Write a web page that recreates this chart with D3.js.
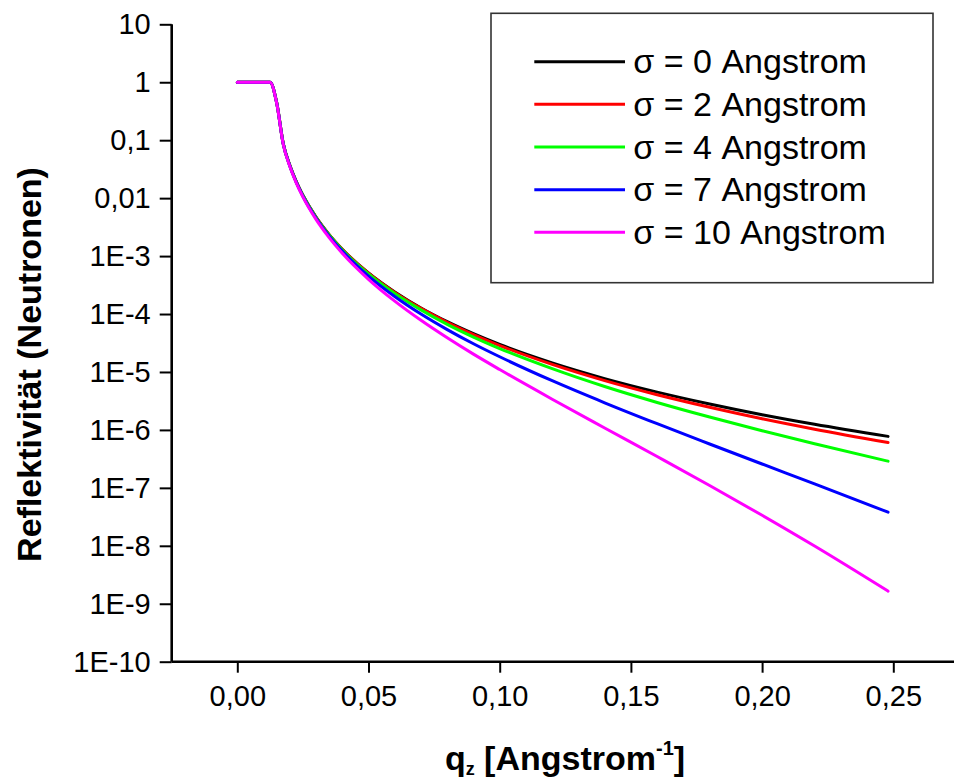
<!DOCTYPE html>
<html>
<head>
<meta charset="utf-8">
<script src="https://cdn.jsdelivr.net/npm/d3@7"></script>
<style>
  html, body { margin: 0; padding: 0; background: #fff; }
  svg { display: block; font-family: "Liberation Sans", Arial, sans-serif; }
</style>
</head>
<body>
<svg width="954" height="783"></svg>
<script>
// q_z grid (1/Angstrom) and reflectivity, one array per roughness
var qValues = [0, 0.005, 0.01, 0.0125, 0.015, 0.0175, 0.02, 0.0225, 0.025, 0.03, 0.035, 0.04,
  0.05, 0.06, 0.07, 0.08, 0.09, 0.10, 0.12, 0.14, 0.16, 0.18, 0.20, 0.22, 0.248];

var sigma0 = [1, 1, 1, 1, 0.447, 0.0878, 0.0368, 0.0191, 0.0112, 0.0047, 0.00235, 0.00131,
  5.11e-4, 2.40e-4, 1.27e-4, 7.37e-5, 4.57e-5, 2.98e-5, 1.43e-5, 7.68e-6, 4.49e-6, 2.80e-6, 1.83e-6, 1.25e-6, 7.74e-7];
var sigma2 = [1, 1, 1, 1, 0.447, 0.0877, 0.0368, 0.0191, 0.0111, 0.00468, 0.00234, 0.00131,
  5.06e-4, 2.36e-4, 1.25e-4, 7.18e-5, 4.42e-5, 2.86e-5, 1.35e-5, 7.10e-6, 4.05e-6, 2.46e-6, 1.56e-6, 1.03e-6, 6.05e-7];
var sigma4 = [1, 1, 1, 1, 0.445, 0.0874, 0.0366, 0.0190, 0.0111, 0.00463, 0.00231, 0.00128,
  4.91e-4, 2.26e-4, 1.18e-4, 6.65e-5, 4.01e-5, 2.54e-5, 1.14e-5, 5.61e-6, 2.98e-6, 1.67e-6, 9.67e-7, 5.77e-7, 2.89e-7];
var sigma7 = [1, 1, 1, 1, 0.442, 0.0865, 0.0361, 0.0187, 0.0108, 0.00449, 0.00221, 0.00122,
  4.52e-4, 2.01e-4, 1.00e-4, 5.39e-5, 3.07e-5, 1.83e-5, 7.06e-6, 2.94e-6, 1.28e-6, 5.72e-7, 2.58e-7, 1.17e-7, 3.80e-8];
var sigma10 = [1, 1, 1, 1, 0.437, 0.0851, 0.0354, 0.0182, 0.0105, 0.00429, 0.00208, 0.00112,
  3.98e-4, 1.67e-4, 7.79e-5, 3.89e-5, 2.03e-5, 1.10e-5, 3.39e-6, 1.08e-6, 3.47e-7, 1.10e-7, 3.36e-8, 9.9e-9, 1.65e-9];

var seriesNames = ["σ = 0 Angstrom", "σ = 2 Angstrom", "σ = 4 Angstrom", "σ = 7 Angstrom", "σ = 10 Angstrom"];
var seriesColors = ["#000000", "#ff0000", "#00ff00", "#0000ff", "#ff00ff"];
var seriesValues = [sigma0, sigma2, sigma4, sigma7, sigma10];

var xTicks = [0, 0.05, 0.10, 0.15, 0.20, 0.25];
var xTickLabels = ["0,00", "0,05", "0,10", "0,15", "0,20", "0,25"];
var xMinorTicks = [-0.025, 0.025, 0.075, 0.125, 0.175, 0.225, 0.275];
var yTicks = [10, 1, 0.1, 0.01, 1e-3, 1e-4, 1e-5, 1e-6, 1e-7, 1e-8, 1e-9, 1e-10];
var yTickLabels = ["10", "1", "0,1", "0,01", "1E-3", "1E-4", "1E-5", "1E-6", "1E-7", "1E-8", "1E-9", "1E-10"];

var svg = d3.select("svg");

var x = d3.scaleLinear().domain([-0.025, 0.275]).range([171.7, 958.9]);
var y = d3.scaleLog().domain([1e-10, 10]).range([661.7, 24.3]);

// minor ticks for the log axis: 2..9 in each decade
var yMinor = [];
yTicks.slice(1).forEach(function(d) {
  for (var k = 2; k <= 9; k++) yMinor.push(d * k);
});

// y axis
var gy = svg.append("g").attr("transform", "translate(" + x.range()[0] + ",0)");
gy.call(d3.axisLeft(y).tickValues(yMinor).tickSize(7).tickFormat(""));
gy.call(d3.axisLeft(y).tickValues(yTicks).tickSize(12).tickPadding(9)
  .tickFormat(function(d, i) { return yTickLabels[i]; }));
gy.selectAll("text").attr("dy", 9.5).attr("font-size", 29).attr("fill", "#000")
  .attr("font-family", "Liberation Sans, Arial, sans-serif");

// x axis
var gx = svg.append("g").attr("transform", "translate(0," + y.range()[0] + ")");
gx.call(d3.axisBottom(x).tickValues(xMinorTicks).tickSize(6).tickFormat(""));
gx.call(d3.axisBottom(x).tickValues(xTicks).tickSize(11)
  .tickFormat(function(d, i) { return xTickLabels[i]; }));
gx.selectAll("text").attr("y", 44).attr("dy", 0).attr("font-size", 29).attr("fill", "#000")
  .attr("font-family", "Liberation Sans, Arial, sans-serif");

svg.selectAll(".domain").attr("stroke", "#000").attr("stroke-width", 2.6);
svg.selectAll(".tick line").attr("stroke", "#000").attr("stroke-width", 2);
gx.select(".domain").attr("d", "M" + x.range()[0] + ",0H" + x.range()[1]);
gy.select(".domain").attr("d", "M0," + y.range()[0] + "V" + y.range()[1]);

// curves
var line = d3.line()
  .x(function(d) { return x(d[0]); })
  .y(function(d) { return y(d[1]); })
  .curve(d3.curveMonotoneX);

svg.append("g").selectAll("path")
  .data(seriesValues)
  .enter().append("path")
  .attr("d", function(vals) { return line(qValues.map(function(q, i) { return [q, vals[i]]; })); })
  .attr("fill", "none")
  .attr("stroke", function(d, i) { return seriesColors[i]; })
  .attr("stroke-width", 3)
  .attr("stroke-linejoin", "round")
  .attr("stroke-linecap", "round");

// legend
var legend = svg.append("g");
legend.append("rect")
  .attr("x", 491).attr("y", 13.3).attr("width", 442).attr("height", 269.4)
  .attr("fill", "#fff").attr("stroke", "#333").attr("stroke-width", 1.6);
var rows = legend.selectAll("g.row").data(seriesNames).enter().append("g")
  .attr("transform", function(d, i) { return "translate(0," + (61.7 + i * 42.65) + ")"; });
rows.append("line")
  .attr("x1", 534.3).attr("x2", 625).attr("y1", 0).attr("y2", 0)
  .attr("stroke", function(d, i) { return seriesColors[i]; })
  .attr("stroke-width", 3);
rows.append("text")
  .attr("x", 633.3).attr("y", 11.6)
  .attr("font-size", 34).attr("fill", "#000")
  .text(function(d) { return d; });

// axis titles
svg.append("text")
  .attr("transform", "translate(41,364.5) rotate(-90)")
  .attr("text-anchor", "middle")
  .attr("font-size", 34).attr("font-weight", "bold")
  .text("Reflektivität (Neutronen)");

var xt = svg.append("text")
  .attr("x", 565).attr("y", 770)
  .attr("text-anchor", "middle")
  .attr("font-size", 34).attr("font-weight", "bold");
xt.append("tspan").text("q");
xt.append("tspan").attr("font-size", 18).attr("dy", 5).text("z");
xt.append("tspan").attr("dy", -5).text(" [Angstrom");
xt.append("tspan").attr("font-size", 20).attr("dy", -15).text("-1");
xt.append("tspan").attr("dy", 15).text("]");
</script>
</body>
</html>
